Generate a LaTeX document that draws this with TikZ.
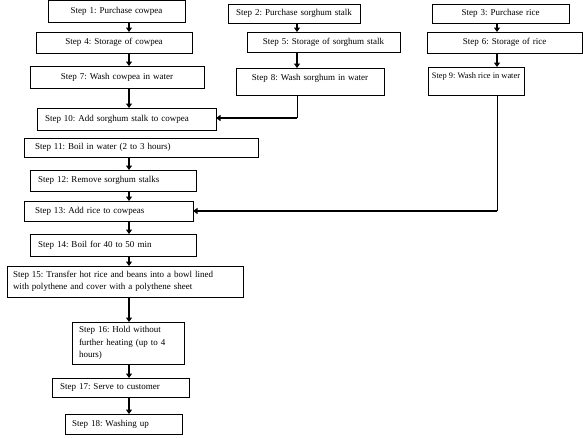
\documentclass[tikz,border=0pt]{standalone}
\usepackage{fontspec}
\setmainfont{Liberation Serif}
\usetikzlibrary{arrows.meta}
\frenchspacing
\begin{document}
\begin{tikzpicture}[x=1pt, y=-1pt, font=\fontsize{9}{12.5}\selectfont]
    \tikzstyle{box}=[draw, line width=0.8pt, anchor=north west, outer sep=0pt, inner ysep=0pt, inner xsep=7pt]
    \tikzstyle{mid}=[box, align=center]
    \tikzstyle{lft}=[box, align=left]
    \tikzstyle{arr}=[line width=2pt, -{Triangle[length=4.5pt, width=6pt]}]
    \useasboundingbox (0,0) rectangle (583,437);
    % column x positions
    \coordinate (mx) at (129,0);
    \coordinate (cx) at (297,0);
    \coordinate (rx) at (497,0);
    % cowpea column
    \node[mid, text width=123pt, minimum height=22pt] (s1) at (48,0) {Step 1: Purchase cowpea};
    \node[mid, text width=142pt, minimum height=21pt] (s4) at (36,32) {Step 4: Storage of cowpea};
    \node[mid, text width=160pt, minimum height=22pt] (s7) at (30,66) {Step 7: Wash cowpea in water};
    % sorghum column
    \node[mid, inner xsep=4pt, text width=124pt, minimum height=19pt] (s2) at (228,4) {Step 2: Purchase sorghum stalk};
    \node[mid, text width=139pt, minimum height=20pt] (s5) at (247,32) {Step 5: Storage of sorghum stalk};
    \node[mid, text width=134pt, text height=12pt, text depth=15pt] (s8) at (236,68) {Step 8: Wash sorghum in water};
    % rice column
    \node[mid, text width=123pt, minimum height=19pt] (s3) at (432,4) {Step 3: Purchase rice};
    \node[mid, text width=141pt, minimum height=21pt] (s6) at (427,32) {Step 6: Storage of rice};
    \node[box, inner xsep=2pt, minimum width=96pt, text height=11pt, text depth=17pt, font=\fontsize{8.4}{11}\selectfont] (s9) at (428,67) {Step 9: Wash rice in water};
    % cooking
    \node[lft, inner xsep=8pt, text width=163pt, minimum height=22pt] (s10) at (37,108) {Step 10: Add sorghum stalk to cowpea};
    \node[lft, inner xsep=11pt, text width=212pt, minimum height=19pt] (s11) at (24,138) {Step 11: Boil in water (2 to 3 hours)};
    \node[lft, inner xsep=8pt, text width=150pt, minimum height=21pt] (s12) at (30,170) {Step 12: Remove sorghum stalks};
    \node[lft, inner xsep=11pt, text width=147pt, minimum height=20pt] (s13) at (24,201) {Step 13: Add rice to cowpeas};
    \node[lft, inner xsep=8pt, text width=150pt, minimum height=22pt] (s14) at (30,234) {Step 14: Boil for 40 to 50 min};
    \node[lft, inner xsep=6pt, text width=224pt, minimum height=31pt] (s15) at (7,266) {Step 15: Transfer hot rice and beans into a bowl lined\\with polythene and cover with a polythene sheet};
    \node[lft, text width=98pt, minimum height=42pt] (s16) at (72,322) {Step 16: Hold without\\further heating (up to 4\\hours)};
    \node[lft, inner xsep=8pt, text width=121pt, minimum height=19pt] (s17) at (52,378) {Step 17: Serve to customer};
    \node[lft, text width=103pt, minimum height=20pt] (s18) at (65,414) {Step 18: Washing up};
    % arrows
    \draw[arr] (s1.south -| mx) -- (s4.north -| mx);
    \draw[arr] (s4.south -| mx) -- (s7.north -| mx);
    \draw[arr] (s7.south -| mx) -- (s10.north -| mx);
    \draw[arr] (s2.south -| cx) -- (s5.north -| cx);
    \draw[arr] (s5.south -| cx) -- (s8.north -| cx);
    \draw[arr] (s3.south -| rx) -- (s6.north -| rx);
    \draw[arr] (s6.south -| rx) -- (s9.north -| rx);
    \draw[arr] (s11.south -| mx) -- (s12.north -| mx);
    \draw[arr] (s12.south -| mx) -- (s13.north -| mx);
    \draw[arr] (s13.south -| mx) -- (s14.north -| mx);
    \draw[arr] (s14.south -| mx) -- (s15.north -| mx);
    \draw[arr] (s15.south -| mx) -- (s16.north -| mx);
    \draw[arr] (s16.south -| mx) -- (s17.north -| mx);
    \draw[arr] (s17.south -| mx) -- (s18.north -| mx);
    % side feeds
    \coordinate (j8) at (297,118);
    \coordinate (j9) at (497,211);
    \draw[line width=0.8pt] (s8.south -| cx) -- (j8);
    \draw[arr] (j8) -- (j8 -| s10.east);
    \draw[line width=0.8pt] (s9.south -| rx) -- (j9);
    \draw[arr] (j9) -- (j9 -| s13.east);
\end{tikzpicture}
\end{document}
